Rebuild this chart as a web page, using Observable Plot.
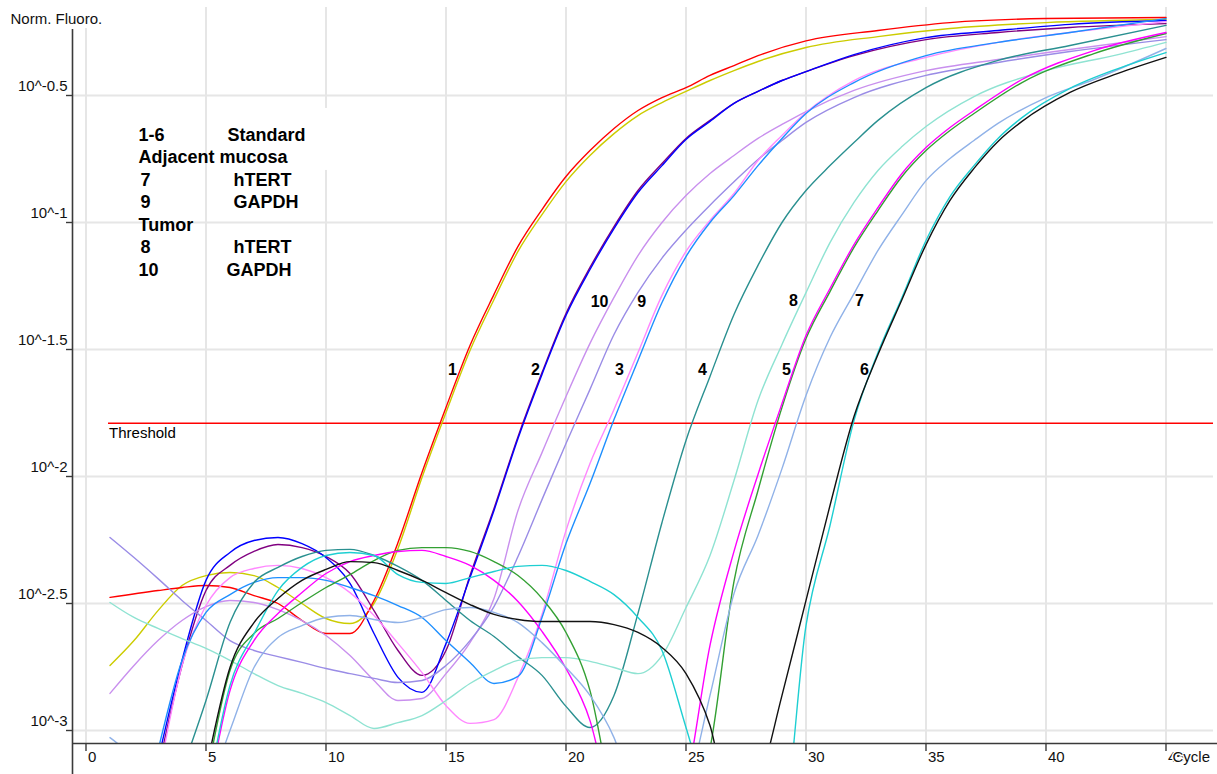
<!DOCTYPE html>
<html><head><meta charset="utf-8">
<script src="https://cdn.jsdelivr.net/npm/d3@7"></script>
<script src="https://cdn.jsdelivr.net/npm/@observablehq/plot@0.6"></script>
<style>html,body{margin:0;padding:0;background:#fff;} #chart svg{display:block}</style>
</head><body><div id="chart"></div>
<script>
// ---- data: [cycle, log10(normalised fluorescence)] ----
const std1a = [[1,-2.476],[3,-2.449],[4,-2.437],[5,-2.429],[6,-2.437],[7,-2.469],[8,-2.500],[9,-2.567],[10,-2.618],[11,-2.618],[12,-2.488],[13,-2.260],[14,-1.984],[15,-1.728],[16,-1.484],[17,-1.283],[18,-1.094],[19,-0.949],[20,-0.819],[21,-0.717],[22,-0.630],[23,-0.559],[24,-0.508],[25,-0.469],[26,-0.421],[27,-0.382],[28,-0.343],[30,-0.285],[33,-0.244],[36,-0.213],[40,-0.197],[45,-0.193]];
const std1b = [[1,-2.744],[2,-2.646],[3,-2.528],[4,-2.429],[5,-2.390],[6,-2.378],[7,-2.390],[8,-2.437],[9,-2.500],[10,-2.559],[11,-2.579],[12,-2.500],[13,-2.283],[14,-2.004],[15,-1.748],[16,-1.504],[17,-1.303],[18,-1.114],[19,-0.969],[20,-0.839],[21,-0.736],[22,-0.650],[23,-0.579],[24,-0.528],[25,-0.484],[26,-0.441],[27,-0.402],[28,-0.366],[30,-0.311],[33,-0.268],[36,-0.236],[40,-0.213],[45,-0.201]];
const std2a = [[3,-3.157],[4,-2.744],[5,-2.449],[6,-2.350],[7,-2.295],[8,-2.268],[9,-2.280],[10,-2.315],[11,-2.382],[12,-2.528],[13,-2.685],[14,-2.783],[15,-2.685],[16,-2.390],[17,-2.126],[18,-1.843],[19,-1.591],[20,-1.358],[21,-1.177],[22,-1.016],[23,-0.874],[24,-0.768],[25,-0.669],[26,-0.598],[27,-0.531],[28,-0.484],[29,-0.441],[30,-0.406],[32,-0.343],[35,-0.280],[38,-0.252],[41,-0.232],[45,-0.217]];
const std2b = [[3,-3.118],[4,-2.724],[5,-2.409],[6,-2.299],[7,-2.252],[8,-2.240],[9,-2.264],[10,-2.319],[11,-2.421],[12,-2.618],[13,-2.791],[14,-2.850],[15,-2.658],[16,-2.398],[17,-2.134],[18,-1.850],[19,-1.598],[20,-1.366],[21,-1.185],[22,-1.024],[23,-0.882],[24,-0.776],[25,-0.673],[26,-0.602],[27,-0.531],[28,-0.484],[29,-0.441],[30,-0.406],[32,-0.339],[35,-0.272],[38,-0.244],[41,-0.220],[45,-0.205]];
const std3a = [[3,-3.197],[4,-2.744],[5,-2.508],[6,-2.398],[7,-2.362],[8,-2.350],[9,-2.362],[10,-2.398],[11,-2.457],[12,-2.547],[13,-2.657],[14,-2.772],[15,-2.902],[16,-2.972],[17,-2.957],[18,-2.791],[19,-2.543],[20,-2.213],[21,-1.949],[22,-1.736],[23,-1.512],[24,-1.287],[25,-1.114],[26,-0.992],[27,-0.886],[28,-0.756],[29,-0.657],[30,-0.567],[32,-0.441],[35,-0.350],[38,-0.291],[41,-0.252],[45,-0.209]];
const std3b = [[3,-3.079],[4,-2.724],[5,-2.535],[6,-2.465],[7,-2.417],[8,-2.398],[9,-2.398],[10,-2.409],[11,-2.437],[12,-2.469],[13,-2.508],[14,-2.555],[15,-2.646],[16,-2.732],[17,-2.815],[18,-2.787],[19,-2.555],[20,-2.264],[21,-2.028],[22,-1.776],[23,-1.543],[24,-1.315],[25,-1.134],[26,-1.000],[27,-0.894],[28,-0.776],[29,-0.669],[30,-0.571],[32,-0.449],[35,-0.343],[38,-0.291],[41,-0.252],[45,-0.197]];
const std4  = [[4,-3.157],[5,-2.882],[6,-2.575],[7,-2.417],[8,-2.358],[9,-2.315],[10,-2.291],[11,-2.287],[12,-2.311],[13,-2.354],[14,-2.409],[15,-2.488],[16,-2.567],[17,-2.630],[18,-2.709],[19,-2.783],[20,-2.905],[21,-2.988],[22,-2.862],[23,-2.539],[24,-2.181],[25,-1.858],[26,-1.606],[27,-1.362],[28,-1.169],[29,-1.000],[30,-0.874],[31,-0.776],[32,-0.685],[33,-0.598],[35,-0.469],[38,-0.362],[41,-0.303],[45,-0.224]];
const std5a = [[5,-3.3],[6,-2.843],[7,-2.646],[8,-2.539],[9,-2.457],[10,-2.382],[11,-2.335],[12,-2.311],[13,-2.295],[14,-2.291],[15,-2.315],[16,-2.350],[17,-2.409],[18,-2.492],[19,-2.610],[20,-2.756],[21,-2.961],[22,-3.35],[23,-3.6],[24,-3.5],[25,-3.217],[26,-2.665],[27,-2.295],[28,-1.992],[29,-1.713],[30,-1.445],[31,-1.260],[32,-1.087],[33,-0.941],[34,-0.807],[35,-0.705],[36,-0.626],[37,-0.559],[39,-0.437],[42,-0.323],[45,-0.252]];
const std5b = [[5,-3.2],[6,-2.764],[7,-2.618],[8,-2.559],[9,-2.496],[10,-2.437],[11,-2.386],[12,-2.331],[13,-2.291],[14,-2.280],[15,-2.280],[16,-2.295],[17,-2.335],[18,-2.390],[19,-2.480],[20,-2.614],[21,-2.843],[22,-3.3],[23,-3.55],[24,-3.5],[25,-3.35],[26,-3.071],[27,-2.413],[28,-2.055],[29,-1.728],[30,-1.457],[31,-1.272],[32,-1.098],[33,-0.953],[34,-0.819],[35,-0.717],[36,-0.638],[37,-0.571],[39,-0.449],[42,-0.335],[45,-0.256]];
const std6a = [[5,-3.157],[6,-2.752],[7,-2.575],[8,-2.480],[9,-2.409],[10,-2.366],[11,-2.335],[12,-2.339],[13,-2.370],[14,-2.409],[15,-2.457],[16,-2.504],[17,-2.543],[18,-2.563],[19,-2.571],[20,-2.571],[21,-2.571],[22,-2.583],[23,-2.614],[24,-2.673],[25,-2.776],[26,-2.980],[27,-3.35],[28,-3.22],[29,-2.862],[30,-2.488],[31,-2.114],[32,-1.764],[33,-1.520],[34,-1.303],[35,-1.087],[36,-0.913],[37,-0.787],[38,-0.681],[39,-0.602],[41,-0.488],[43,-0.413],[45,-0.350]];
const std6b = [[5,-3.276],[6,-2.823],[7,-2.620],[8,-2.449],[9,-2.358],[10,-2.311],[11,-2.299],[12,-2.311],[13,-2.386],[14,-2.417],[15,-2.421],[16,-2.398],[17,-2.374],[18,-2.354],[19,-2.350],[20,-2.370],[21,-2.413],[22,-2.465],[23,-2.555],[24,-2.685],[25,-2.988],[26,-3.3],[27,-3.5],[28,-3.5],[29,-3.4],[30,-2.587],[31,-2.193],[32,-1.780],[33,-1.512],[34,-1.295],[35,-1.071],[36,-0.898],[37,-0.776],[38,-0.669],[39,-0.587],[41,-0.472],[43,-0.394],[45,-0.331]];
const mucosaHTERT7 = [[1,-3.028],[2,-3.12],[3,-3.3],[4,-3.35],[5,-3.25],[6,-3.0],[7,-2.752],[8,-2.634],[9,-2.587],[10,-2.555],[11,-2.547],[12,-2.563],[13,-2.575],[14,-2.555],[15,-2.524],[16,-2.516],[17,-2.535],[18,-2.575],[19,-2.654],[20,-2.752],[21,-2.862],[22,-3.028],[23,-3.3],[24,-3.4],[25,-3.25],[26,-2.862],[27,-2.461],[28,-2.232],[29,-1.969],[30,-1.681],[31,-1.453],[32,-1.280],[33,-1.110],[34,-0.969],[35,-0.835],[36,-0.748],[37,-0.677],[38,-0.610],[40,-0.508],[42,-0.437],[45,-0.315]];
const tumorHTERT8 = [[1,-2.496],[2,-2.555],[3,-2.598],[4,-2.638],[5,-2.677],[6,-2.724],[7,-2.776],[8,-2.823],[9,-2.854],[10,-2.890],[11,-2.941],[12,-2.992],[13,-2.969],[14,-2.941],[15,-2.882],[16,-2.815],[17,-2.764],[18,-2.724],[19,-2.713],[20,-2.713],[21,-2.728],[22,-2.752],[23,-2.776],[24,-2.705],[25,-2.516],[26,-2.311],[27,-2.016],[28,-1.701],[29,-1.480],[30,-1.276],[31,-1.079],[32,-0.921],[33,-0.795],[34,-0.701],[35,-0.622],[37,-0.504],[40,-0.402],[43,-0.339],[45,-0.291]];
const mucosaGAPDH9 = [[1,-2.240],[2,-2.319],[3,-2.402],[4,-2.488],[5,-2.567],[6,-2.646],[7,-2.685],[8,-2.709],[9,-2.732],[10,-2.756],[11,-2.776],[12,-2.795],[13,-2.811],[14,-2.803],[15,-2.744],[16,-2.646],[17,-2.512],[18,-2.315],[19,-2.091],[20,-1.870],[21,-1.657],[22,-1.441],[23,-1.275],[24,-1.140],[25,-1.030],[26,-0.932],[27,-0.840],[28,-0.752],[29,-0.677],[30,-0.606],[32,-0.508],[35,-0.421],[38,-0.370],[41,-0.327],[45,-0.280]];
const tumorGAPDH10 = [[1,-2.854],[2,-2.744],[3,-2.646],[4,-2.567],[5,-2.512],[6,-2.488],[7,-2.496],[8,-2.524],[9,-2.567],[10,-2.626],[11,-2.705],[12,-2.803],[13,-2.882],[14,-2.874],[15,-2.776],[16,-2.654],[17,-2.480],[18,-2.134],[19,-1.906],[20,-1.685],[21,-1.476],[22,-1.295],[23,-1.130],[24,-1.000],[25,-0.894],[26,-0.807],[27,-0.736],[28,-0.669],[29,-0.614],[30,-0.563],[32,-0.480],[35,-0.402],[38,-0.358],[41,-0.319],[45,-0.268]];

const threshold = -1.79;
const xTicks = [0,5,10,15,20,25,30,35,40,45];
const yTicks = [-0.5,-1,-1.5,-2,-2.5,-3];

// curve labels
const curveLabelText  = ["1","2","3","4","5","6","10","9","8","7"];
const curveLabelCycle = [15.27,18.73,22.23,25.69,29.19,32.44,21.40,23.15,29.48,32.23];
const curveLabelLevel = [-1.581,-1.581,-1.581,-1.581,-1.581,-1.581,-1.312,-1.312,-1.310,-1.310];

// legend text block
const legendText  = ["1-6","Standard","Adjacent mucosa","7","hTERT","9","GAPDH","Tumor","8","hTERT","10","GAPDH"];
const legendCycle = [2.19,5.90,2.19,2.27,6.15,2.27,6.15,2.19,2.27,6.15,2.19,5.85];
const legendLevel = [-0.656,-0.656,-0.743,-0.834,-0.834,-0.920,-0.920,-1.009,-1.097,-1.097,-1.188,-1.188];

// ---- styles ----
const series = [
  {data: std1b, color: "#cccc00"},
  {data: std1a, color: "#ff0000"},
  {data: std2a, color: "#800080"},
  {data: std2b, color: "#0000ff"},
  {data: tumorGAPDH10, color: "#c990ee"},
  {data: mucosaGAPDH9, color: "#9a8ce6"},
  {data: std3a, color: "#ff88ff"},
  {data: std3b, color: "#1e8fff"},
  {data: std4, color: "#2a9090"},
  {data: tumorHTERT8, color: "#8fe3d2"},
  {data: std5b, color: "#33a033"},
  {data: std5a, color: "#ff00ff"},
  {data: mucosaHTERT7, color: "#90b2e8"},
  {data: std6b, color: "#1ecfd2"},
  {data: std6a, color: "#111111"}
];

const X0 = -0.5625, X1 = 47.146;    // frame extent in cycles (24 px per cycle)
const Y0 = -3.05118, Y1 = -0.12598; // frame extent in log units (254 px per decade)
const grid = "#e6e6e6", axisCol = "#3a3a3a";
const font = "'Liberation Sans', Arial, sans-serif";

const marks = [
  // grid
  Plot.ruleX(xTicks, {x: d => d, y1: d => d === 0 ? -0.236 : -0.1535, y2: Y0, stroke: grid, strokeWidth: 2}),
  Plot.ruleY(yTicks, {y: d => d, x1: X0, x2: 46.98, stroke: grid, strokeWidth: 2}),
  Plot.rect([0], {x1: 8.94, x2: 10.44, y1: -0.551, y2: -0.795, fill: "white"}),
  // threshold
  Plot.ruleY([threshold], {y: d => d, x1: 0.9375, x2: 46.98, stroke: "#ff0000", strokeWidth: 1.5}),
  Plot.text(["Threshold"], {x: 0.96, y: threshold, dy: 10, text: d => d, textAnchor: "start", fontSize: 15, fontFamily: font}),
  // curves
  ...series.map(s => Plot.line(s.data, {x: d => d[0], y: d => d[1], stroke: s.color, strokeWidth: 1.4, curve: "monotone-x", clip: "frame"})),
  // axes
  Plot.ruleX([X0], {x: d => d, y1: -0.2402, y2: -3.1732, stroke: axisCol, strokeWidth: 1.6}),
  Plot.ruleY([Y0], {y: d => d, x1: X0, x2: X1, stroke: axisCol, strokeWidth: 1.6}),
  Plot.ruleY(yTicks, {y: d => d, x1: -0.8125, x2: X0, stroke: axisCol, strokeWidth: 1.4}),
  Plot.ruleX(xTicks, {x: d => d, y1: Y0, y2: -3.0827, stroke: axisCol, strokeWidth: 1.4}),
  Plot.text(yTicks, {x: -0.77, y: d => d, dy: -9, text: d => "10^" + d, textAnchor: "end", fontSize: 15, fontFamily: font, fill: "#111"}),
  Plot.text(xTicks, {x: d => d, y: Y0, dx: 2, dy: 13.5, text: d => String(d), textAnchor: "start", fontSize: 15, fontFamily: font, fill: "#111"}),
  Plot.text(["Cycle"], {x: 45.27, y: Y0, dy: 14, text: d => d, textAnchor: "start", fontSize: 15, fontFamily: font, fill: "#111", stroke: "white", strokeWidth: 3}),
  Plot.text(["Norm. Fluoro."], {x: -3.146, y: -0.1988, text: d => d, textAnchor: "start", fontSize: 15, fontFamily: font, fill: "#111"}),
  // curve labels
  Plot.text(curveLabelText, {x: (d, i) => curveLabelCycle[i], y: (d, i) => curveLabelLevel[i], text: d => d, fontSize: 16, fontWeight: "bold", fontFamily: font}),
  // legend block
  Plot.text(legendText, {x: (d, i) => legendCycle[i], y: (d, i) => legendLevel[i], text: d => d, textAnchor: "start", fontSize: 18, fontWeight: "bold", fontFamily: font})
];

const chart = Plot.plot({
  width: 1217, height: 774,
  marginLeft: 72, marginRight: 0, marginTop: 0, marginBottom: 31,
  x: {type: "linear", domain: [X0, X1], axis: null},
  y: {type: "linear", domain: [Y0, Y1], axis: null},
  style: {fontFamily: font, background: "#fff", overflow: "visible"},
  marks
});
document.getElementById("chart").appendChild(chart);
</script>
</body></html>
